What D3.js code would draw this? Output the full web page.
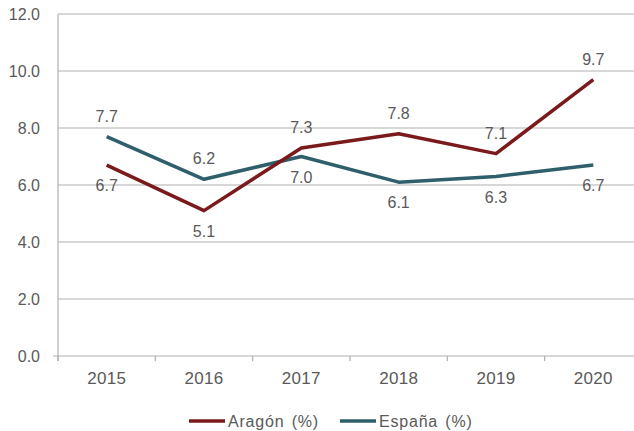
<!DOCTYPE html>
<html>
<head>
<meta charset="utf-8">
<script src="https://cdn.jsdelivr.net/npm/d3@7"></script>
<style>
  body { margin: 0; background: #fff; }
  text { font-family: "Liberation Sans", Arial, sans-serif; fill: #595959; }
</style>
</head>
<body>
<script>
// data
var years = ["2015", "2016", "2017", "2018", "2019", "2020"];
var aragon = [6.7, 5.1, 7.3, 7.8, 7.1, 9.7];
var espana = [7.7, 6.2, 7.0, 6.1, 6.3, 6.7];
var yTicks = [0, 2, 4, 6, 8, 10, 12];
// label above (-1) or below (1) the point
var aragonPos = [1, 1, -1, -1, -1, -1];
var espanaPos = [-1, -1, 1, 1, 1, 1];

var width = 634, height = 431;
var margin = { top: 14, left: 58, bottom: 75 };

var svg = d3.select("body").append("svg")
    .attr("width", width)
    .attr("height", height);

var x = d3.scaleBand().domain(years).range([margin.left, margin.left + 6 * 97.33]).padding(0);
var y = d3.scaleLinear().domain([0, 12]).range([height - margin.bottom, margin.top]);

// grid lines
svg.append("g").selectAll("line")
    .data(yTicks.filter(d => d > 0))
    .enter().append("line")
    .attr("x1", margin.left)
    .attr("x2", width)
    .attr("y1", d => y(d))
    .attr("y2", d => y(d))
    .attr("stroke", "#b0b0b0")
    .attr("stroke-width", 1.2);

// y axis line
svg.append("line")
    .attr("x1", margin.left).attr("x2", margin.left)
    .attr("y1", y(12)).attr("y2", y(0) + 5)
    .attr("stroke", "#b0b0b0").attr("stroke-width", 1.2);

// x axis line
svg.append("line")
    .attr("x1", margin.left - 5).attr("x2", width)
    .attr("y1", y(0)).attr("y2", y(0))
    .attr("stroke", "#b0b0b0").attr("stroke-width", 1.2);

// x ticks at band edges
svg.append("g").selectAll("line")
    .data(years)
    .enter().append("line")
    .attr("x1", d => x(d)).attr("x2", d => x(d))
    .attr("y1", y(0)).attr("y2", y(0) + 5)
    .attr("stroke", "#b0b0b0").attr("stroke-width", 1.2);

// y labels
svg.append("g").selectAll("text")
    .data(yTicks)
    .enter().append("text")
    .attr("x", 40)
    .attr("y", d => y(d))
    .attr("dy", "0.35em")
    .attr("text-anchor", "end")
    .style("font-size", "16px")
    .text(d => d.toFixed(1));

// x labels
svg.append("g").selectAll("text")
    .data(years)
    .enter().append("text")
    .attr("x", d => x(d) + x.bandwidth() / 2)
    .attr("y", y(0) + 22)
    .attr("dy", "0.35em")
    .attr("text-anchor", "middle")
    .style("font-size", "17px")
    .style("letter-spacing", "0.3px")
    .text(d => d);

var line = d3.line()
    .x((d, i) => x(years[i]) + x.bandwidth() / 2)
    .y(d => y(d));

function drawSeries(vals, pos, color) {
    svg.append("path")
        .datum(vals)
        .attr("d", line)
        .attr("fill", "none")
        .attr("stroke", color)
        .attr("stroke-width", 3.5)
        .attr("stroke-linejoin", "round");

    svg.append("g").selectAll("text")
        .data(vals)
        .enter().append("text")
        .attr("x", (d, i) => x(years[i]) + x.bandwidth() / 2)
        .attr("y", (d, i) => y(d) + pos[i] * 20.5)
        .attr("dy", "0.35em")
        .attr("text-anchor", "middle")
        .style("font-size", "16px")
        .text(d => d.toFixed(1));
}

drawSeries(espana, espanaPos, "#2e5f6a");
drawSeries(aragon, aragonPos, "#7a1a1c");

// legend
var legend = [
    { name: "Aragón (%)", color: "#7a1a1c", x: 189 },
    { name: "España (%)", color: "#2e5f6a", x: 340 }
];
var lg = svg.append("g").selectAll("g")
    .data(legend)
    .enter().append("g")
    .attr("transform", d => `translate(${d.x}, 421)`);
lg.append("line")
    .attr("x1", 0).attr("x2", 36)
    .attr("stroke", d => d.color)
    .attr("stroke-width", 3.5);
lg.append("text")
    .attr("x", 39)
    .attr("dy", "0.35em")
    .style("font-size", "16px")
    .style("letter-spacing", "0.8px")
    .style("word-spacing", "2px")
    .text(d => d.name);
</script>
</body>
</html>
